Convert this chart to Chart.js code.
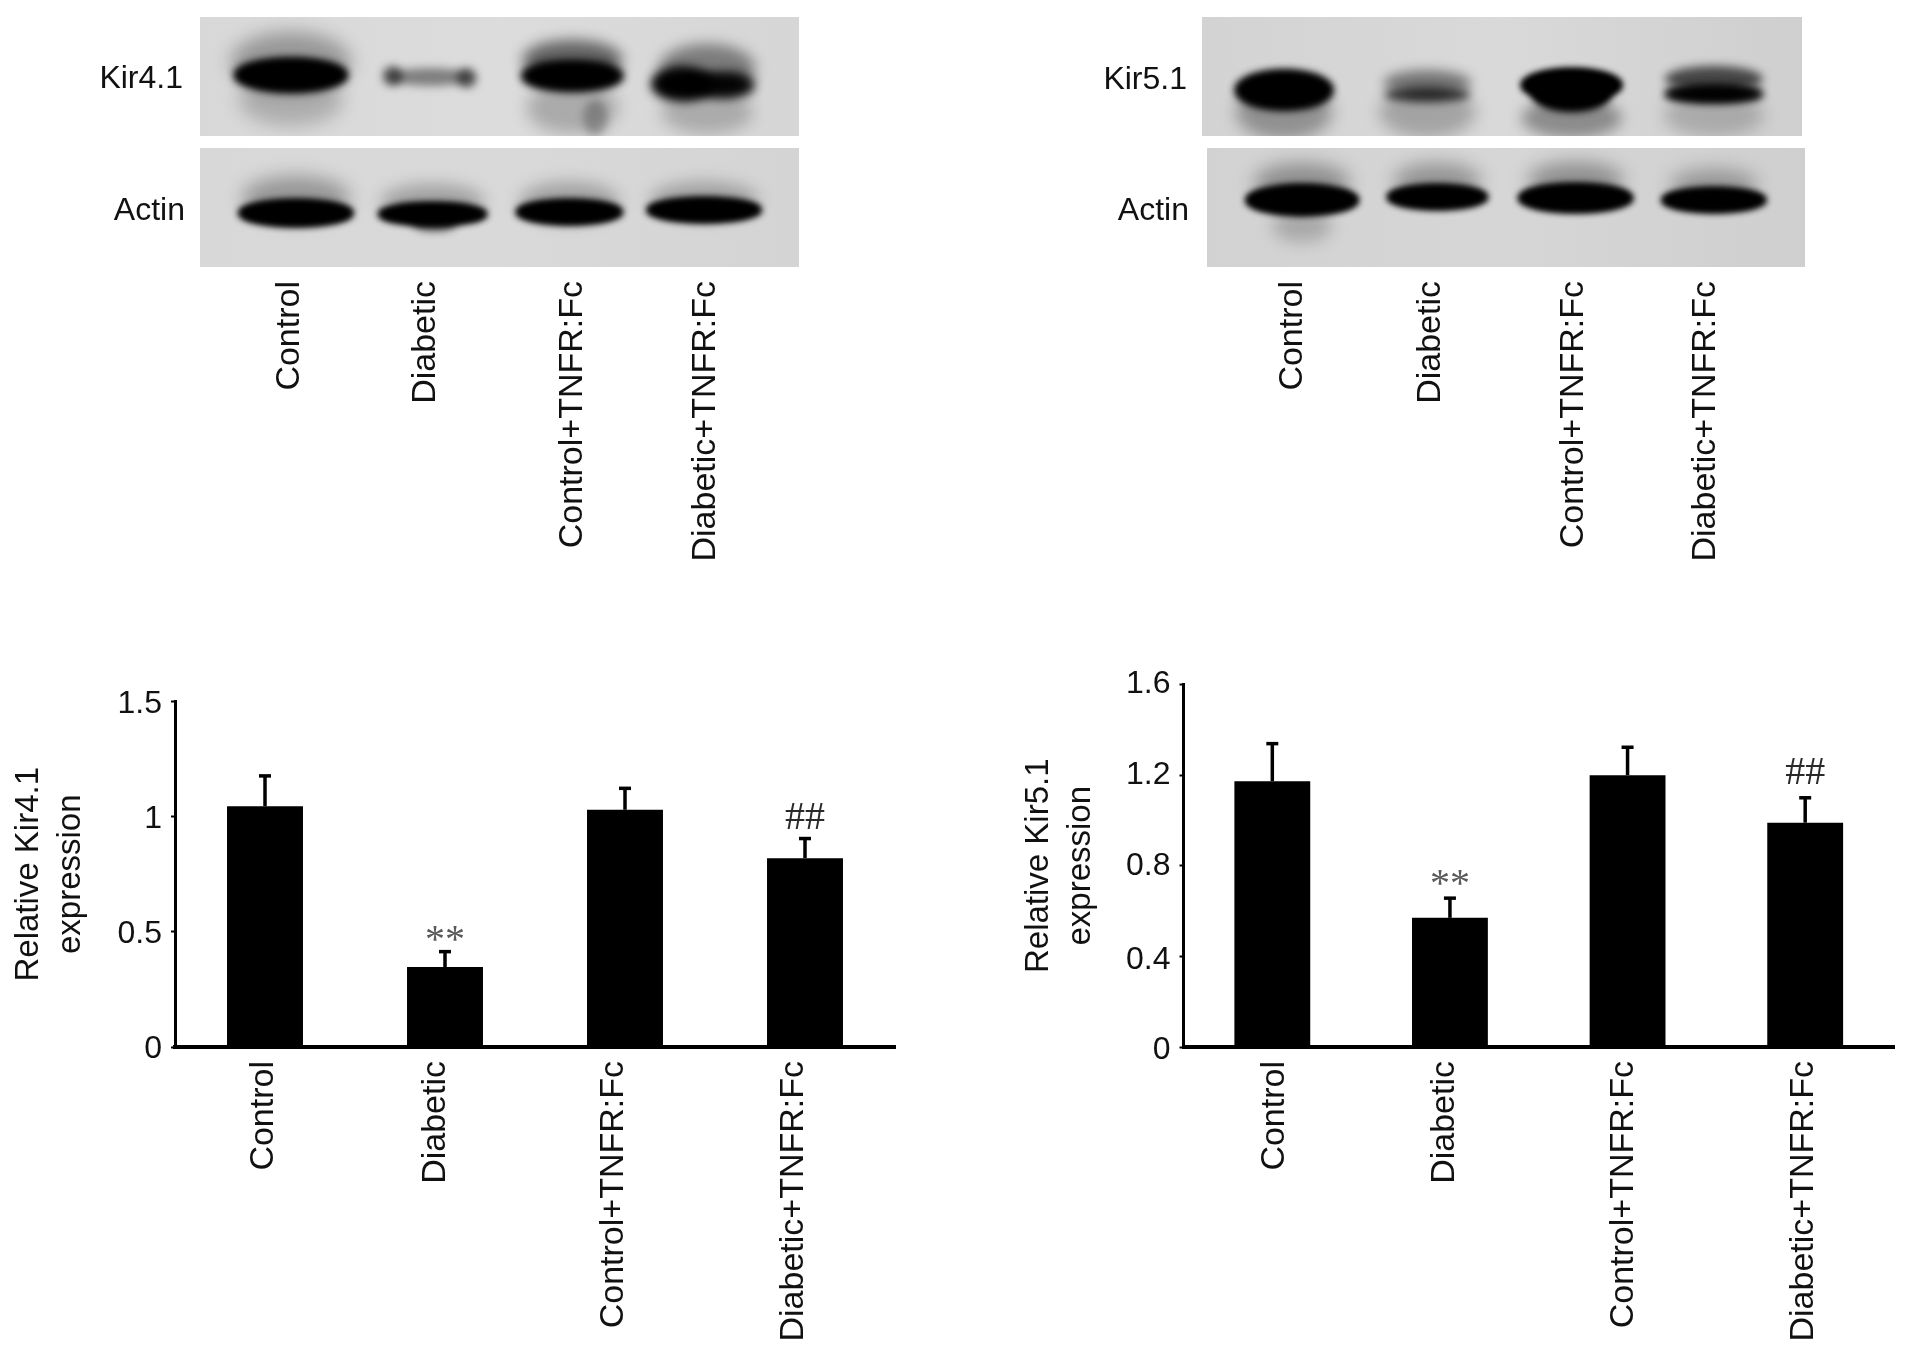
<!DOCTYPE html>
<html><head><meta charset="utf-8">
<style>
html,body{margin:0;padding:0;background:#fff;width:1913px;height:1350px;overflow:hidden}
canvas{position:absolute;filter:blur(0.6px)}
</style>
<script src="https://cdn.jsdelivr.net/npm/chart.js@4"></script>
</head><body>
<canvas id="blotL" style="left:0;top:0"></canvas>
<canvas id="blotR" style="left:950px;top:0"></canvas>
<canvas id="barL" style="left:0;top:620px"></canvas>
<canvas id="barR" style="left:950px;top:620px"></canvas>
<script>
// ---------- data ----------
const categories = ['Control','Diabetic','Control+TNFR:Fc','Diabetic+TNFR:Fc'];
const kir41Values = [1.045,0.347,1.03,0.82];
const kir41ErrTop = [1.177,0.414,1.123,0.905];
const kir41Marks  = ['','**','','##'];
const kir41Ticks  = [0,0.5,1,1.5];
const kir51Values = [1.173,0.57,1.2,0.99];
const kir51ErrTop = [1.339,0.657,1.323,1.10];
const kir51Marks  = ['','**','','##'];
const kir51Ticks  = [0,0.4,0.8,1.2,1.6];
const kir41Density = [1,0.7,1,0.95];
const actinLDensity = [1,1,1,1];
const kir51Density = [1,0.8,1,0.95];
const actinRDensity = [1,1,1,1];
const rowLabelsL = ['Kir4.1','Actin'];
const rowLabelsR = ['Kir5.1','Actin'];

const FONT = '"Liberation Sans", Arial, sans-serif';
Chart.defaults.font.family = FONT;
Chart.defaults.color = '#111';

// nudges individual tick labels the way the hand-set labels of the figure sit
const tickNudgePlugin = {
  id:'tickNudgePlugin',
  beforeDraw(chart,_a,o){
    if(o.x) chart.scales.x.getLabelItems().forEach((it,i)=>{it.options.translation[0]+=o.x[i]||0;});
    if(o.y) chart.scales.y.getLabelItems().forEach((it,i)=>{it.options.translation[1]+=o.y[i]||0;});
  }
};

// ---------- bar charts ----------
const errorPlugin = {
  id:'errorPlugin',
  afterDatasetsDraw(chart,_a,o){
    const {ctx,scales:{x,y}} = chart;
    ctx.save();
    ctx.strokeStyle='#000';
    o.tops.forEach((t,i)=>{
      const cx=x.getPixelForValue(i), yt=y.getPixelForValue(t), yb=y.getPixelForValue(o.values[i]);
      ctx.lineWidth=3.5;
      ctx.beginPath();ctx.moveTo(cx,yb);ctx.lineTo(cx,yt);ctx.stroke();
      ctx.beginPath();ctx.moveTo(cx-6,yt);ctx.lineTo(cx+6,yt);ctx.stroke();
      const m=o.marks[i];
      if(m){
        ctx.textAlign='center';ctx.textBaseline='alphabetic';
        ctx.font='40px "Liberation Serif", serif';
        ctx.fillStyle = m==='**' ? '#5a5a5a' : '#2a2a2a';
        ctx.fillText(m,cx,yt+(m==='**'?o.starDy:o.hashDy));
      }
    });
    ctx.restore();
  }
};

function makeBar(id,opt){
  const c=document.getElementById(id);
  c.width=opt.w;c.height=opt.h;c.style.width=opt.w+'px';c.style.height=opt.h+'px';
  new Chart(c,{
    type:'bar',
    data:{labels:categories,datasets:[{data:opt.values,backgroundColor:'#000',borderWidth:0,barPercentage:opt.barPct,categoryPercentage:1}]},
    plugins:[errorPlugin,tickNudgePlugin],
    options:{
      responsive:false,animation:false,
      layout:{padding:{left:0,top:opt.top,right:opt.w-opt.right,bottom:0}},
      plugins:{legend:{display:false},tooltip:{enabled:false},
        tickNudgePlugin:{x:opt.nudgeX,y:opt.nudgeY},
        errorPlugin:{tops:opt.tops,values:opt.values,marks:opt.marks,starDy:opt.starDy,hashDy:opt.hashDy}},
      scales:{
        x:{
          grid:{display:false,drawTicks:false},
          border:{display:true,color:'#000',width:4},
          ticks:{minRotation:90,maxRotation:90,autoSkip:false,padding:14,labelOffset:opt.labelOffset,font:{size:34},color:'#111'},
          afterFit(s){s.height=opt.h-opt.bottom;}
        },
        y:{
          min:0,max:opt.max,
          afterBuildTicks(s){s.ticks=opt.ticks.map(v=>({value:v}));},
          grid:{display:true,drawOnChartArea:false,drawTicks:true,tickLength:4,tickColor:'#000',tickWidth:2},
          border:{display:true,color:'#000',width:3},
          ticks:{padding:9,font:{size:32},color:'#111',callback:v=>String(v)},
          title:{display:true,text:opt.title,font:{size:33,lineHeight:1.28},color:'#111',padding:{top:opt.titleTop,bottom:0}},
          afterFit(s){s.width=opt.left;}
        }
      }
    }
  });
}
makeBar('barL',{w:940,h:730,top:81.5,bottom:427,left:175,right:895,max:1.5,ticks:kir41Ticks,values:kir41Values,tops:kir41ErrTop,marks:kir41Marks,barPct:0.422,labelOffset:-11,nudgeX:[10,2,0,0],nudgeY:[2.5,2.5,2.5,2.5],title:['Relative Kir4.1','expression'],titleTop:8,starDy:0,hashDy:-10});
makeBar('barR',{w:960,h:730,top:64.5,bottom:427,left:233.5,right:944,max:1.6,ticks:kir51Ticks,values:kir51Values,tops:kir51ErrTop,marks:kir51Marks,barPct:0.427,labelOffset:-4,nudgeX:[6,-1,0,2],nudgeY:[3.5,3.5,0,0,0],title:['Relative Kir5.1','expression'],titleTop:68,starDy:-2,hashDy:-14});

// ---------- blot charts ----------
const blotPlugin = {
  id:'blotPlugin',
  beforeDatasetsDraw(chart,_a,o){
    const {ctx,scales:{x,y}} = chart;
    const ell=(cx,cy,rx,ry,alpha,blur)=>{
      ctx.filter=`blur(${blur}px)`;
      ctx.fillStyle=`rgba(0,0,0,${alpha})`;
      ctx.beginPath();ctx.ellipse(cx,cy,rx,ry,0,0,Math.PI*2);ctx.fill();
      ctx.filter='none';
    };
    chart.data.datasets.forEach((ds,r)=>{
      const p=o.panels[r];
      const top=y.getPixelForValue(p.y0), bot=y.getPixelForValue(p.y1);
      const L=x.left+p.left, R=x.right+p.right;
      const g=ctx.createLinearGradient(L,0,R,0);
      g.addColorStop(0,p.c0);g.addColorStop(.5,p.c1);g.addColorStop(1,p.c2);
      ctx.save();
      ctx.beginPath();ctx.rect(L,top,R-L,bot-top);ctx.clip();
      ctx.fillStyle=g;ctx.fillRect(L,top,R-L,bot-top);
      ds.data.forEach((d,i)=>{
        const cx=x.getPixelForValue(i);
        p.shapes[i].forEach(s=>{
          const cy=y.getPixelForValue(s[1]);
          ell(cx+s[0],cy,s[2],s[3],Math.min(1,s[4]*d),s[5]);
          if(s[6]) ell(cx+s[0],cy,s[2],s[3],Math.min(1,s[4]*d),s[5]);
        });
      });
      ctx.restore();
      ctx.fillStyle='#111';
      ctx.font='32px '+FONT;
      ctx.textAlign='right';ctx.textBaseline='middle';
      ctx.fillText(o.labels[r],p.labelX,y.getPixelForValue(p.labelY));
    });
  }
};
function makeBlot(id,opt){
  const c=document.getElementById(id);
  c.width=opt.w;c.height=opt.h;c.style.width=opt.w+'px';c.style.height=opt.h+'px';
  new Chart(c,{
    type:'bar',
    data:{labels:categories,datasets:opt.densities.map(d=>({data:d,backgroundColor:'rgba(0,0,0,0)',borderWidth:0}))},
    plugins:[blotPlugin,tickNudgePlugin],
    options:{
      responsive:false,animation:false,
      layout:{padding:{left:opt.left,top:0,right:opt.w-opt.right,bottom:0}},
      plugins:{legend:{display:false},tooltip:{enabled:false},blotPlugin:{panels:opt.panels,labels:opt.labels},tickNudgePlugin:{x:opt.nudgeX}},
      scales:{
        x:{grid:{display:false,drawTicks:false},border:{display:false},
           ticks:{minRotation:90,maxRotation:90,autoSkip:false,padding:14,font:{size:34},color:'#111'},
           afterFit(s){s.height=opt.h-267;}},
        y:{display:false,min:0,max:267,reverse:true}
      }
    }
  });
}
// shape: [dx, y, rx, ry, alpha, blur, doubled]
makeBlot('blotL',{w:940,h:600,left:217.6,right:772.4,densities:[kir41Density,actinLDensity],nudgeX:[2.5,0,8.5,2.5],labels:rowLabelsL,
 panels:[
  {y0:17,y1:136,left:-17.6,right:26.6,c0:'#d8d8d8',c1:'#dcdcdc',c2:'#d6d6d6',labelX:183,labelY:79,shapes:[
    [[4,62,60,30,.3,9],[4,100,52,26,.2,9],[4,75,56,16,1,4,1]],
    [[5,77,42,9,.6,4],[-33,76,10,10,.85,4],[41,78,10,10,.8,4]],
    [[8,60,50,20,.55,7],[8,108,46,26,.22,8],[31,118,12,18,.25,4],[8,76,50,14,1,5,1]],
    [[4,68,48,24,.45,7],[4,112,46,22,.22,8],[-20,84,30,15,1,6,1],[22,85,28,11,.9,6,1]]]},
  {y0:148,y1:267,left:-17.6,right:26.6,c0:'#d8d8d8',c1:'#d9d9d9',c2:'#d4d4d4',labelX:185,labelY:211,shapes:[
    [[9,198,54,22,.3,9],[9,213,57,13,1,3.5,1]],
    [[7,202,52,18,.25,8],[7,214,54,11,1,3.5,1],[9,223,22,8,.6,4]],
    [[5,202,50,20,.25,8],[5,212,53,12,1,3.5,1]],
    [[1,200,54,18,.25,8],[1,210,57,12,1,3.5,1]]]}
 ]});
makeBlot('blotR',{w:960,h:600,left:271,right:824,densities:[kir51Density,actinRDensity],nudgeX:[2.5,2.5,7,1],labels:rowLabelsR,
 panels:[
  {y0:17,y1:136,left:-19,right:28,c0:'#d3d3d3',c1:'#d9d9d9',c2:'#cfcfcf',labelX:237,labelY:80,shapes:[
    [[-6,112,48,28,.32,8],[-6,90,48,19,1,4,1]],
    [[-1,112,48,26,.3,8],[-1,83,44,13,.55,6],[-1,95,43,7,.85,4]],
    [[5,118,50,20,.35,7],[5,85,50,16,1,3.5,1],[5,94,38,16,1,4,1]],
    [[9,115,50,22,.2,8],[9,79,49,13,.7,5],[9,94,49,8,1,4,1]]]},
  {y0:148,y1:267,left:-14,right:31,c0:'#d2d2d2',c1:'#d6d6d6',c2:'#cfcfcf',labelX:239,labelY:211,shapes:[
    [[12,183,48,20,.32,9],[12,226,30,16,.2,8],[12,200,56,15,1,3.5,1]],
    [[9,181,44,18,.3,9],[9,197,50,12,1,3.5,1]],
    [[9,180,48,18,.32,9],[9,198,57,14,1,3.5,1]],
    [[9,185,44,16,.28,9],[9,200,52,12,1,3.5,1]]]}
 ]});
</script>
</body></html>
